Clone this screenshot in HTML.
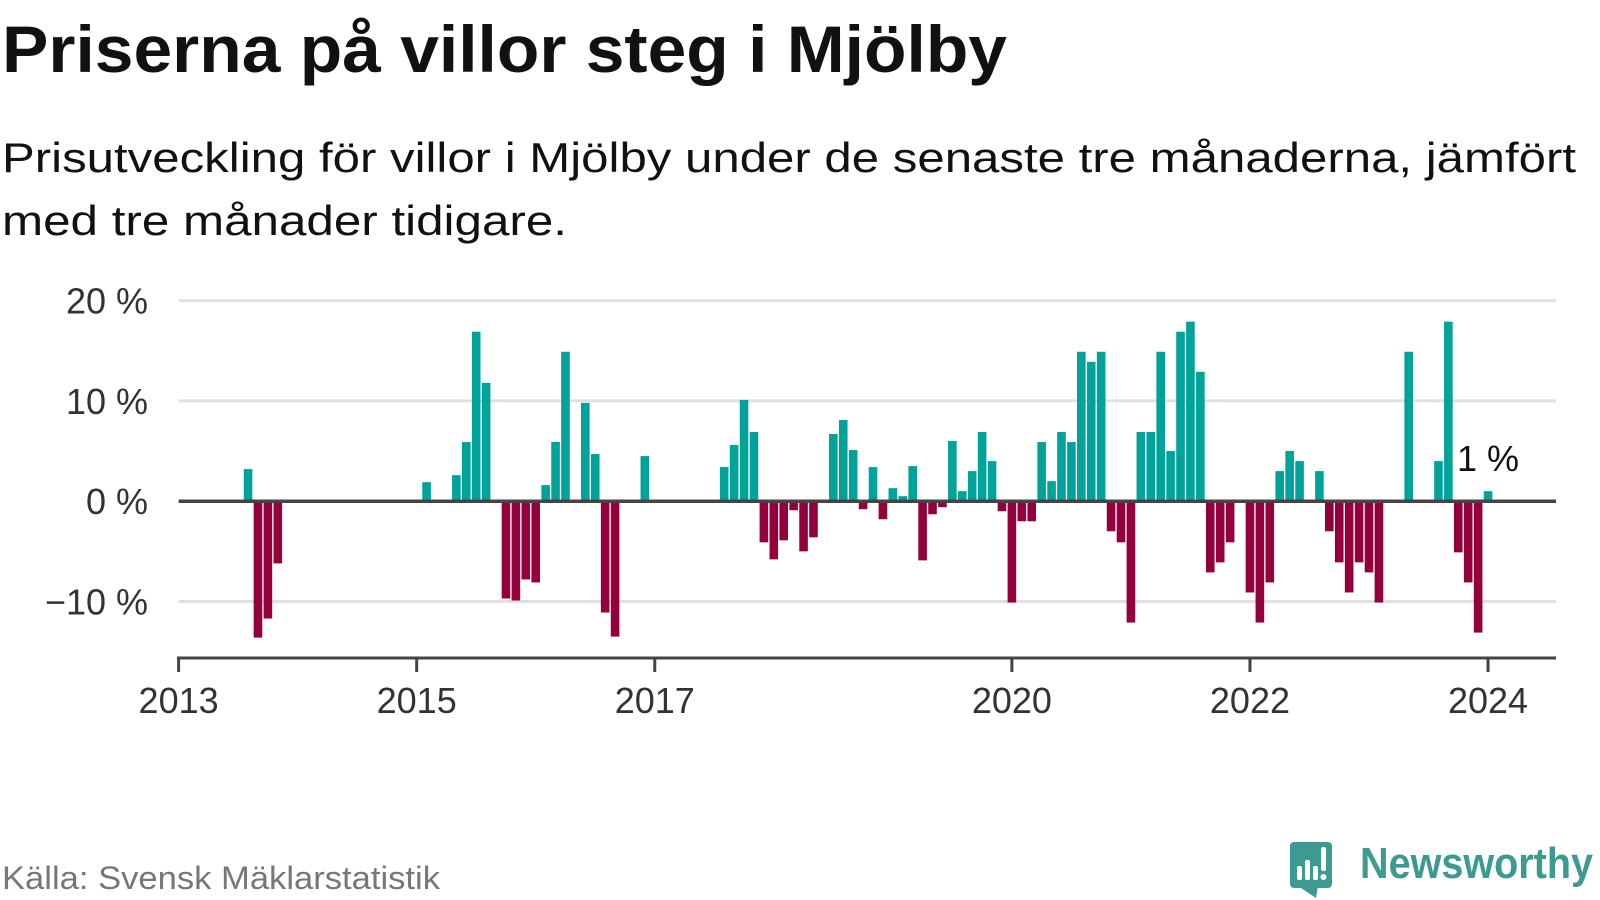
<!DOCTYPE html>
<html><head><meta charset="utf-8">
<style>
html,body{margin:0;padding:0;background:#fff;}
body{width:1600px;height:900px;overflow:hidden;font-family:"Liberation Sans",sans-serif;}
svg{display:block;}
</style></head>
<body>
<svg id="chart" width="1600" height="900" viewBox="0 0 1600 900" xmlns="http://www.w3.org/2000/svg">
  <text x="2" y="72" font-family="Liberation Sans, sans-serif" font-weight="bold" font-size="66" fill="#111" textLength="1005" lengthAdjust="spacingAndGlyphs">Priserna på villor steg i Mjölby</text>
  <text x="2" y="172" font-family="Liberation Sans, sans-serif" font-size="42" fill="#111" textLength="1574" lengthAdjust="spacingAndGlyphs">Prisutveckling för villor i Mjölby under de senaste tre månaderna, jämfört</text>
  <text x="2" y="235" font-family="Liberation Sans, sans-serif" font-size="42" fill="#111" textLength="565" lengthAdjust="spacingAndGlyphs">med tre månader tidigare.</text>
  <g id="grid"></g>
  <g id="ylabels"></g>
  <g id="bars"></g>
  <g id="xaxis"></g>
  <text x="2" y="889" font-family="Liberation Sans, sans-serif" font-size="32" fill="#777" textLength="438" lengthAdjust="spacingAndGlyphs">Källa: Svensk Mäklarstatistik</text>
  <g>
    <rect x="1290" y="842" width="42" height="46" rx="4" fill="#3d9a91"/>
    <polygon points="1298,886 1318,886 1316,898" fill="#3d9a91"/>
    <rect x="1297" y="866" width="5" height="14" rx="2" fill="#fff"/>
    <rect x="1305" y="860" width="5" height="20" rx="2" fill="#fff"/>
    <rect x="1313" y="866" width="5" height="14" rx="2" fill="#fff"/>
    <rect x="1321" y="847" width="5" height="24" rx="2" fill="#fff"/>
    <circle cx="1323.5" cy="877" r="3" fill="#fff"/>
    <text x="1360" y="878" font-family="Liberation Sans, sans-serif" font-weight="bold" font-size="44" fill="#3d9a91" textLength="233" lengthAdjust="spacingAndGlyphs">Newsworthy</text>
  </g>
</svg>
<script>
const startYear = 2013;
const startMonth = 8; // August 2013 is first value
const values = [3.2,-13.6,-11.7,-6.2,null,null,null,null,null,null,null,null,null,null,null,null,null,null,1.9,null,null,2.6,5.9,16.9,11.8,null,
-9.7,-9.9,-7.8,-8.1,1.6,5.9,14.9,null,9.8,4.7,-11.1,-13.5,null,null,4.5,null,null,null,null,null,null,null,
3.4,5.6,10.1,6.9,-4.1,-5.8,-3.9,-0.9,-5.0,-3.6,null,6.7,8.1,5.1,-0.8,3.4,-1.8,1.3,0.5,3.5,-5.9,-1.3,-0.6,6.0,
1.0,3.0,6.9,4.0,-1.0,-10.1,-2.0,-2.0,5.9,2.0,6.9,5.9,14.9,13.9,14.9,-3.0,-4.1,-12.1,6.9,6.9,14.9,5.0,16.9,17.9,12.9,
-7.1,-6.1,-4.1,null,-9.1,-12.1,-8.1,3.0,5.0,4.0,null,3.0,-3.0,-6.1,-9.1,-6.1,-7.1,-10.1,null,null,14.9,null,null,4.0,17.9,-5.1,-8.1,-13.1,1.0];
const yTicks = [20,10,0,-10];
const yTickLabels = ["20 %","10 %","0 %","\u221210 %"];
const xTickYears = [2013,2015,2017,2020,2022,2024];
const lastLabel = "1 %";

const NS = "http://www.w3.org/2000/svg";
const X0 = 178.6, MPX = 9.92, XEND = 1556;
const Y0 = 501.2, PPU = 10.03;
function xScale(m){ return X0 + m*MPX; }
function yScale(v){ return Y0 - v*PPU; }
function mk(tag, attrs){ const e=document.createElementNS(NS,tag); for(const k in attrs) e.setAttribute(k,attrs[k]); return e; }

const grid=document.getElementById('grid'), yl=document.getElementById('ylabels');
yTicks.forEach((t,i)=>{
  if(t!==0){
    const l=mk('line',{x1:X0,x2:XEND,y1:yScale(t),y2:yScale(t),stroke:'#e0e0e0','stroke-width':3});
    
    
    grid.appendChild(l);
  }
  const tx=mk('text',{x:148,y:yScale(t)+13,'text-anchor':'end','font-family':'Liberation Sans, sans-serif','font-size':36,fill:'#333'});
  tx.textContent=yTickLabels[i];
  
  
  yl.appendChild(tx);
});

const bars=document.getElementById('bars');
const off=(startYear-2013)*12+(startMonth-1);
values.forEach((v,i)=>{
  if(v===null) return;
  const cx=xScale(off+i), w=8.6;
  const y=v>=0?yScale(v):Y0, h=Math.abs(yScale(v)-Y0);
  const r=mk('rect',{x:cx-w/2,y:y,width:w,height:h,fill:v>=0?'#00a39a':'#94003b'});
  
  
  bars.appendChild(r);
});
const li=values.length-1;
const lab=mk('text',{x:xScale(off+li),y:yScale(values[li])-20,'text-anchor':'middle','font-family':'Liberation Sans, sans-serif','font-size':36,fill:'#111'});
lab.textContent=lastLabel;


bars.appendChild(lab);
const zl=mk('line',{x1:X0,x2:XEND,y1:Y0,y2:Y0,stroke:'#444','stroke-width':3.5});


bars.appendChild(zl);

const xa=document.getElementById('xaxis');
const al=mk('line',{x1:X0-1.5,x2:XEND,y1:658,y2:658,stroke:'#444','stroke-width':3});


xa.appendChild(al);
xTickYears.forEach(yr=>{
  const x=xScale((yr-2013)*12);
  const t=mk('line',{x1:x,x2:x,y1:656.5,y2:672,stroke:'#444','stroke-width':3});
  
  
  xa.appendChild(t);
  const tx=mk('text',{x:x,y:713,'text-anchor':'middle','font-family':'Liberation Sans, sans-serif','font-size':36,fill:'#333'});
  tx.textContent=String(yr);
  
  
  xa.appendChild(tx);
});
</script>
</body></html>
